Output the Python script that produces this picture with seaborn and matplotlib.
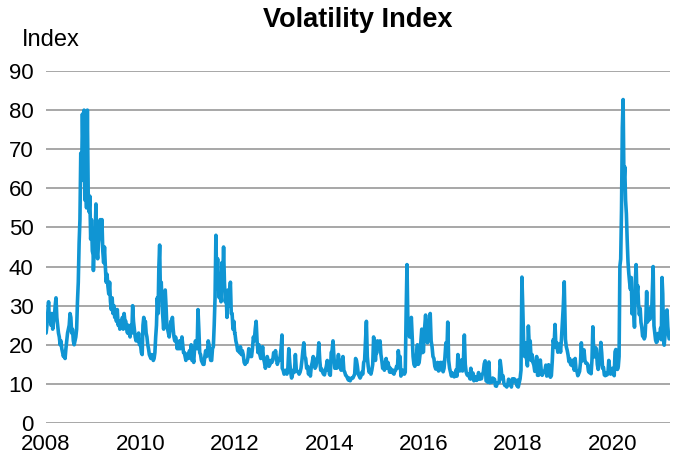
import pandas as pd
import numpy as np
import seaborn as sns
import matplotlib.pyplot as plt

# Roughly weekly readings of the index, one list per year
vix_2008 = [23, 25, 28, 31, 26, 27, 25, 28, 24, 26, 27, 30, 32, 27, 25, 23, 22, 20, 21, 19,
            18, 17, 18, 16.5, 19, 21, 23, 24, 25, 28, 27, 23, 24, 21, 20, 21, 22, 24, 31, 36,
            46, 52, 69, 62, 79, 67, 80, 57, 62, 55, 80, 59, 54, 58, 47, 52, 44, 43]
vix_2009 = [39, 45, 48, 56, 44, 42, 46, 48, 52, 49, 52, 44, 41, 45, 40, 36, 38, 35,
            33, 36, 31, 29, 32, 28, 30, 27, 29, 26, 29, 25, 26, 24, 26, 25, 27, 24, 28, 26,
            26, 24, 23, 25, 23, 22, 25, 23, 30, 26, 24, 22, 21, 22, 21, 23, 20, 21]
vix_2010 = [20, 18, 17.5, 25, 27, 24, 26, 23, 22, 20, 19, 17.5, 17, 16.5, 17.5, 17, 16, 16.5,
            18, 22, 25, 32, 28, 40, 45.5, 32, 36, 30, 27, 24, 30, 34, 30, 25, 24, 23,
            22, 24, 26, 25, 27, 24, 22, 21, 22, 21, 19, 20, 19, 21, 19, 20, 22, 20, 18,
            18, 17, 16, 17.5, 17.7]
vix_2011 = [17.5, 16.5, 18.5, 17, 20, 16, 17, 15.5, 19, 21, 20, 19, 29, 24, 18, 17.5, 16,
            15.5, 15, 15, 17, 18.5, 17, 18, 21, 20, 17, 16, 16, 19, 19.5, 25, 32, 48, 36,
            42, 35, 32, 38, 31, 41, 37, 45, 36, 31, 33, 27, 34, 30, 33, 36, 28, 28, 24, 26, 23]
vix_2012 = [23, 21, 20, 18.5, 19, 18, 19.5, 17.5, 18.5, 17.5, 15.5, 15, 15.5, 15.5, 16.5,
            19, 17.5, 17, 17, 19, 22, 21, 24, 26, 21, 18, 20, 17.5, 16.5, 17, 19.5, 16.5,
            15.5, 14, 15, 17, 16, 14.5, 15, 16, 15.5, 16, 18, 17, 18.5, 16.5, 15, 16,
            16, 17, 19, 22.5]
vix_2013 = [14, 13.5, 12.5, 12.8, 13.5, 12.5, 14, 19, 15.5, 13, 11.5, 12.5, 13.5, 13, 17.5,
            13.5, 13.2, 13, 12.5, 13, 14, 16, 18.5, 20.5, 17, 16.5, 14, 14.5, 12.5, 13.5,
            12, 14.5, 15.5, 17, 15.5, 14, 14.5, 16.5, 17, 20.5, 16, 13.5, 13.8, 13, 12.5,
            12.3, 13.5, 14.5, 16, 13.5, 13.7]
vix_2014 = [12.5, 12.2, 18, 18.5, 21, 17, 14, 14.5, 14, 15.5, 17.5, 15, 14, 13.5, 15.8, 17,
            13.5, 13, 12.2, 12, 11.5, 11, 11.5, 10.8, 11.3, 11.5, 11.5, 12, 12.5, 16.5, 16,
            14.5, 12.5, 12, 11.5, 12, 13, 12.5, 15.5, 16, 21, 26, 17, 14.5, 13, 13.5, 12.5,
            13.5, 15, 22, 19.5, 16, 19]
vix_2015 = [17.8, 21, 19, 20, 21, 17.5, 16, 14, 14, 13.5, 15.5, 16.5, 14, 15.5, 14.5, 13,
            14, 13, 12.9, 13.5, 12.5, 13.3, 13.5, 14.5, 14, 18.5, 16, 17, 12, 12.5, 13.5,
            13, 12.5, 13, 28, 40.5, 26, 24.5, 22, 24, 27, 22, 17, 15, 14.5, 15, 17.5, 20,
            15, 15.5, 17.5, 21, 24, 18, 18.2]
vix_2016 = [20.7, 24.5, 27.6, 22.5, 20.5, 23, 26, 28, 21, 19.5, 17, 16.5, 14.5, 13.8, 14,
            15.5, 13.3, 13.5, 15.5, 14.5, 15.5, 13.1, 14, 17, 20.5, 17.3, 25.8, 16, 14, 13,
            12, 12.8, 12.4, 11.8, 12, 13.6, 12, 17.5, 15.5, 13.3, 13.5, 16.1, 13.3, 16.2,
            22.5, 15, 13, 12.3, 12.1, 12.6, 11.3, 14]
vix_2017 = [11.3, 11.5, 12.8, 10.8, 11.9, 11.5, 10.9, 11.5, 12.9, 11.2, 12.3, 11.3, 12.5,
            12.9, 15.1, 15.9, 10.8, 10.6, 10.4, 15.6, 10.3, 10.7, 10.4, 11.5, 11.2, 11.2,
            9.5, 9.4, 10.3, 10.3, 10.4, 16, 14, 11.3, 12.1, 10.2, 9.6, 9.6, 9.2, 9.7, 11.2,
            10.0, 10.2, 9.2, 11.3, 10.6, 11.3, 11.0, 10.2, 9.5, 11.0]
vix_2018 = [9.2, 10.2, 11.3, 13.5, 37.3, 29, 19.5, 17, 20.5, 16.5, 14.6, 24.8, 19.9, 21, 16,
            17.5, 15.5, 14.8, 13.2, 13.4, 17, 12.2, 12.2, 12.5, 16.1, 13.4, 12.2, 12.8,
            13.2, 13.4, 14.8, 12, 12.5, 14.9, 12.1, 11.7, 12.1, 15.9, 21.3, 19.9, 25.2,
            19.3, 20.5, 18.1, 18.6, 20.2, 18.1, 21.6, 25.9, 30, 36.1, 25.4]
vix_2019 = [21.4, 19.5, 18.6, 17.4, 15.7, 16.4, 14.9, 14.9, 14.6, 16.1, 13.5, 16.5, 13.7,
            13.2, 12.1, 12.6, 13.2, 15.4, 20.5, 15.9, 16.3, 18.7, 16.1, 15.3, 15.3, 15.1,
            13.3, 12.9, 14.5, 12.6, 16.1, 24.6, 17.9, 16.9, 19.3, 18.9, 15, 13.7, 15.3,
            16.2, 20.6, 17.9, 14, 14.2, 12.3, 12.1, 12.7, 12.3, 12.6, 16, 13.9, 12.5,
            12.7, 13.8]
vix_2020 = [14, 12.5, 12.1, 18.2, 18.8, 15.2, 13.7, 14.4, 17, 40.1, 41.9, 54.5, 75.5, 82.7,
            61.7, 65.5, 57, 53.5, 46.8, 41.2, 38.2, 35.9, 34.2, 37.2, 27.9, 29.7, 28.6,
            24.5, 36, 40.5, 32.9, 35.1, 30.4, 27.7, 29.3, 25.7, 24.5, 22.2, 22.3, 21.5, 22.1,
            26.4, 33.6, 25.8, 26.4, 28.5, 26.5, 29.5, 27.4, 33.4, 40, 24.9, 23.1, 21.2,
            20.6, 20.8, 22.9, 21.6, 22.8]
vix_2021 = [22.5, 24.3, 21.3, 37.2, 33, 21.8, 19.9, 22.1, 28.5, 26.7, 28.9, 24.7, 22.6, 21.5]

yearly = {2008: vix_2008, 2009: vix_2009, 2010: vix_2010, 2011: vix_2011, 2012: vix_2012,
          2013: vix_2013, 2014: vix_2014, 2015: vix_2015, 2016: vix_2016, 2017: vix_2017,
          2018: vix_2018, 2019: vix_2019, 2020: vix_2020, 2021: vix_2021}

tick_years = [2008, 2010, 2012, 2014, 2016, 2018, 2020]
y_ticks = [0, 10, 20, 30, 40, 50, 60, 70, 80, 90]

# Spread each year's readings over the dates of that year
frames = []
for year, vals in yearly.items():
    end = f"{year}-12-31" if year < 2021 else "2021-03-15"
    dates = pd.date_range(f"{year}-01-02", end, periods=len(vals))
    frames.append(pd.DataFrame({"Date": dates, "VIX": vals}))
df = pd.concat(frames, ignore_index=True)

sns.set_style("white")
plt.rcParams['font.family'] = ['Liberation Sans', 'DejaVu Sans']
plt.rcParams['text.color'] = 'black'

fig = plt.figure(figsize=(6.81, 4.59), dpi=100)
ax = fig.add_axes([0.0675, 0.0784, 0.9165, 0.7669])

sns.lineplot(data=df, x="Date", y="VIX", ax=ax, color="#1095d3", linewidth=2.6)

# Axes formatting
ax.set_xlim(pd.Timestamp("2008-01-01"), pd.Timestamp("2021-03-22"))
ax.set_ylim(0, 90)
ax.set_yticks(y_ticks)
ax.set_xticks([pd.Timestamp(f"{y}-01-01") for y in tick_years])
ax.set_xticklabels([str(y) for y in tick_years])
ax.tick_params(axis='both', length=0, labelsize=16, labelcolor='black')
ax.tick_params(axis='y', pad=9)
ax.tick_params(axis='x', pad=8)
for lbl in ax.get_yticklabels():
    lbl.set_va('center_baseline')
ax.grid(axis='y', color='#a0a0a0', linewidth=1.3)
ax.set_axisbelow(True)
for s in ax.spines.values():
    s.set_visible(False)
ax.set_xlabel("")
ax.set_ylabel("")

fig.text(0.526, 0.956, "Volatility Index", ha='center', va='center',
         fontsize=19.5, fontweight='bold', color='black')
fig.text(0.032, 0.913, "Index", ha='left', va='center', fontsize=17, color='black')

fig.savefig("out.png", dpi=100)
